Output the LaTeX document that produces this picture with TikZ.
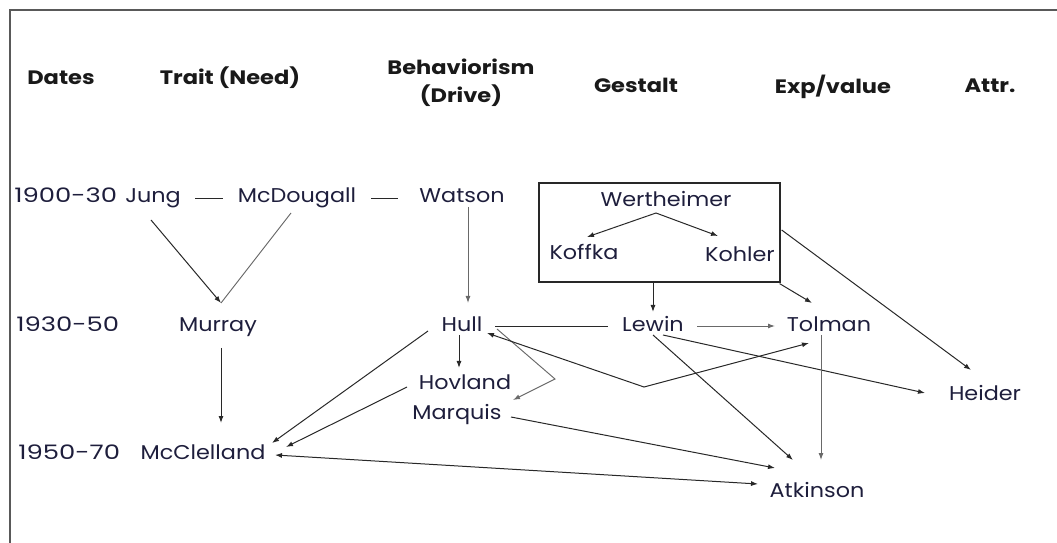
\documentclass[tikz,border=0pt]{standalone}
\usepackage{fontspec}
\setmainfont{Poppins}
\usetikzlibrary{arrows.meta,calc}
\definecolor{txt}{RGB}{30,30,60}
\definecolor{ln}{RGB}{40,40,40}
\definecolor{lnl}{RGB}{105,105,105}
\begin{document}
\begin{tikzpicture}[x=1bp,y=-1bp,
  person/.style={font=\fontsize{20}{24}\selectfont, text=txt, inner sep=0pt, anchor=base, xscale=1.12},
  datel/.style={font=\fontsize{20}{24}\selectfont, text=txt, inner sep=0pt, anchor=base west, xscale=1.3},
  hdr/.style={font=\fontsize{19.5}{28}\selectfont\bfseries, text=black!90, inner sep=0pt, anchor=base, xscale=1.16},
  con/.style={draw=ln, line width=1bp},
  conl/.style={draw=lnl, line width=0.95bp},
  arr/.style={-{Latex[length=7bp,width=5bp]}},
  arrs/.style={{Latex[length=7bp,width=5bp]}-{Latex[length=7bp,width=5bp]}},
]
\useasboundingbox (0,0) rectangle (1057,543);
% frame
\draw[draw=black!65, line width=1.6bp] (10,543) -- (10,10) -- (1057,10);

% headers
\node[hdr] (dates) at (61,85) {Dates};
\node[hdr] (trait) at (230,85) {Trait (Need)};
\node[hdr, anchor=center, align=center] (behav) at (461,83) {Behaviorism\\(Drive)};
\node[hdr] (gestalt) at (636,93) {Gestalt};
\node[hdr] (expv) at (833,94) {Exp/value};
\node[hdr] (attr) at (990,93) {Attr.};

% dates
\node[datel] (d1900) at (14,203) {1900-30};
\node[datel] (d1930) at (16,332) {1930-50};
\node[datel] (d1950) at (18,459) {1950-70};

% people
\node[person] (jung) at (153,203) {Jung};
\node[person] (mcd) at (297,203) {McDougall};
\node[person] (watson) at (462,203) {Watson};
\node[draw=ln, line width=1.3bp, minimum width=241bp, minimum height=99bp, inner sep=0pt] (gbox) at (659.5,232.5) {};
\node[person] (wert) at (666,207) {Wertheimer};
\node[person] (koffka) at (584,260) {Koffka};
\node[person] (kohler) at (740,262) {Kohler};
\node[person] (murray) at (218,332) {Murray};
\node[person] (hull) at (462,332) {Hull};
\node[person] (lewin) at (653,332) {Lewin};
\node[person] (tolman) at (829,332) {Tolman};
\node[person] (hovland) at (465,389) {Hovland};
\node[person] (marquis) at (457,419) {Marquis};
\node[person] (heider) at (985,400) {Heider};
\node[person] (mcc) at (203,459) {McClelland};
\node[person] (atk) at (817,497) {Atkinson};

\coordinate (b1) at (555,379);
\coordinate (b2) at (644,387);

% connectors
\draw[con] ($(jung.base)+(42,-4)$) -- ($(mcd.base)+(-74,-4)$);
\draw[con] ($(mcd.base)+(74,-4)$) -- ($(watson.base)+(-64,-4)$);
\draw[con, arr] ($(jung.base)+(-2,17)$) -- ($(murray.base)+(3,-29)$);
\draw[conl] ($(mcd.base)+(-6,10)$) -- ($(murray.base)+(3,-29)$);
\draw[conl, arr] ($(watson.base)+(6,4)$) -- ($(hull.base)+(6,-29)$);
\draw[con, arr] ($(wert.base)+(-10,6)$) -- ($(koffka.base)+(3,-23)$);
\draw[con, arr] ($(wert.base)+(-10,6)$) -- ($(kohler.base)+(-22,-26)$);
\draw[con, arr] ($(gbox.south)+(-6.5,0)$) -- ($(lewin.base)+(0,-20)$);
\draw[con, arr] ($(gbox.south east)+(-1,1)$) -- ($(tolman.base)+(-17,-29)$);
\draw[con, arr] ($(gbox.east)+(1,-2.5)$) -- ($(heider.base)+(-14,-30)$);
\draw[con] ($(hull.base)+(33,-5)$) -- ($(lewin.base)+(-45,-5)$);
\draw[conl, arr] ($(lewin.base)+(44,-6)$) -- ($(tolman.base)+(-54,-6)$);
\draw[con, arr] ($(murray.base)+(3,16)$) -- ($(mcc.base)+(18,-36)$);
\draw[con, arr] ($(hull.base)+(-34,-1)$) -- ($(mcc.base)+(69,-16)$);
\draw[con, arr] ($(hull.base)+(-3,3)$) -- ($(hovland.base)+(-6,-21)$);
\draw[con, arr] ($(hovland.base)+(-58,-2)$) -- ($(mcc.base)+(83,-12)$);
\draw[conl, arr] ($(hull.base)+(35,-3)$) -- (b1) -- ($(marquis.base)+(56,-19)$);
\draw[con, arrs] ($(tolman.base)+(-20,11)$) -- (b2) -- ($(hull.base)+(25,1)$);
\draw[con, arr] ($(lewin.base)+(10,3)$) -- ($(heider.base)+(-60,-7)$);
\draw[con, arr] ($(lewin.base)+(0,3)$) -- ($(atk.base)+(-24,-37)$);
\draw[conl, arr] ($(tolman.base)+(-8,3)$) -- ($(atk.base)+(4,-37)$);
\draw[con, arr] ($(marquis.base)+(54,-2)$) -- ($(atk.base)+(-42,-29)$);
\draw[con, arrs] ($(mcc.base)+(72,-4)$) -- ($(atk.base)+(-59,-13)$);
\end{tikzpicture}
\end{document}
